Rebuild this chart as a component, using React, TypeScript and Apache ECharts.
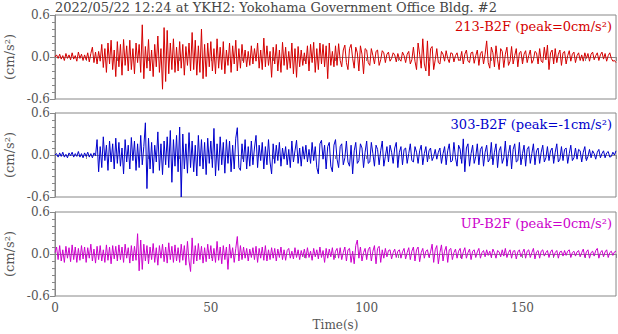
import React, { useEffect, useRef } from "react";
import * as echarts from "echarts";

const TITLE = "2022/05/22 12:24 at YKH2: Yokohama Government Office Bldg. #2";
const CHANNELS = ["213-B2F (peak=0cm/s²)", "303-B2F (peak=-1cm/s²)", "UP-B2F (peak=0cm/s²)"];
const COLORS = ["#d40000", "#0000cc", "#cc00cc"];
const X_TICK_LABELS = [0, 50, 100, 150];
const Y_TICK_LABELS = [-0.6, 0.0, 0.6];
const DT = 0.5; // seconds between samples

// 213-B2F, one row per 10 s (0.5 s steps)
const red: number[] = [
  0.00, 0.03, -0.02, 0.04, -0.03, 0.02, -0.05, 0.05, -0.02, 0.03, -0.04, 0.06, -0.03, 0.02, -0.06, 0.07, -0.02, 0.04, -0.05, 0.03,
  -0.04, 0.06, -0.07, 0.05, 0.14, -0.08, 0.07, -0.10, 0.08, -0.06, 0.18, -0.15, 0.12, -0.22, 0.20, -0.10, 0.24, -0.18, 0.10, -0.28,
  0.22, -0.14, 0.18, -0.26, 0.25, -0.12, 0.16, -0.20, 0.24, -0.18, 0.12, -0.24, 0.20, -0.08, 0.18, -0.22, 0.46, -0.31, 0.15, -0.16,
  0.25, -0.20, 0.10, -0.28, 0.18, -0.14, 0.30, -0.22, 0.12, -0.46, 0.42, -0.35, 0.38, -0.24, 0.20, -0.18, 0.26, -0.22, 0.14, -0.20,
  0.22, -0.16, 0.18, -0.26, 0.15, -0.12, 0.20, -0.20, 0.35, -0.18, 0.24, -0.26, 0.16, -0.22, 0.40, -0.31, 0.18, -0.28, 0.20, -0.14,
  0.22, -0.20, 0.12, -0.24, 0.26, -0.16, 0.14, -0.18, 0.22, -0.24, 0.10, -0.12, 0.20, -0.22, 0.16, -0.10, 0.24, -0.20, 0.12, -0.16,
  0.18, -0.08, 0.10, -0.14, 0.08, -0.12, 0.16, -0.10, 0.12, -0.06, 0.20, -0.16, 0.10, -0.18, 0.27, -0.14, 0.16, -0.12, 0.08, -0.29,
  0.14, -0.10, 0.18, -0.20, 0.10, -0.22, 0.21, -0.12, 0.14, -0.18, 0.08, -0.16, 0.20, -0.24, 0.12, -0.29, 0.15, -0.14, 0.10, -0.12,
  0.06, -0.10, 0.16, -0.20, 0.18, -0.08, 0.21, -0.22, 0.12, -0.18, 0.20, -0.10, 0.18, -0.14, 0.16, -0.31, 0.20, -0.12, 0.08, -0.14,
  0.16, -0.12, 0.19, -0.05, -0.14, 0.10, 0.17, -0.08, -0.18, 0.12, 0.18, -0.02, -0.16, 0.14, 0.06, -0.20, 0.16, 0.04, -0.24, 0.12,
  0.10, -0.08, -0.12, 0.12, 0.02, -0.10, 0.08, 0.10, -0.12, -0.04, 0.09, 0.06, -0.08, 0.04, 0.07, -0.06, -0.02, 0.06, 0.03, -0.07,
  0.05, -0.03, -0.06, 0.07, 0.02, -0.08, 0.04, 0.08, -0.10, -0.04, 0.14, -0.06, -0.18, 0.20, 0.04, -0.16, 0.26, -0.10, -0.20, 0.23,
  -0.27, 0.12, 0.15, -0.18, -0.04, 0.12, -0.08, -0.10, 0.08, 0.04, -0.06, 0.09, -0.02, -0.08, 0.06, 0.05, -0.07, 0.02, 0.06, -0.05,
  -0.04, 0.08, -0.10, 0.04, 0.10, -0.06, -0.08, 0.06, 0.07, -0.09, 0.02, 0.10, -0.12, 0.05, 0.08, -0.10, 0.04, 0.23, -0.08, -0.16,
  0.14, 0.06, -0.14, 0.16, -0.04, -0.18, 0.12, 0.08, -0.15, 0.04, 0.14, -0.12, -0.06, 0.15, -0.10, 0.02, 0.12, -0.14, 0.06, 0.08,
  -0.10, 0.04, 0.09, -0.08, 0.02, 0.10, -0.09, -0.04, 0.08, 0.06, -0.10, 0.12, -0.06, -0.08, 0.14, -0.04, 0.17, -0.18, 0.06, 0.10,
  -0.10, 0.12, -0.08, 0.04, 0.10, -0.12, 0.06, 0.08, -0.10, 0.02, 0.09, -0.06, 0.04, 0.07, -0.08, 0.02, 0.06, -0.05, 0.03, -0.06,
  0.06, -0.02, 0.05, -0.06, 0.04, 0.07, -0.04, 0.02, 0.06, -0.05, 0.03, 0.07, -0.03, 0.05, -0.06, 0.02, 0.06, -0.02, -0.06, -0.05,
  -0.08,
];

// 303-B2F
const blue: number[] = [
  0.00, 0.02, -0.03, 0.03, -0.02, 0.04, -0.03, 0.01, -0.04, 0.03, -0.01, 0.04, -0.03, 0.02, -0.02, 0.05, -0.03, 0.02, -0.04, 0.03,
  -0.02, 0.04, -0.03, 0.02, -0.04, 0.03, -0.01, 0.22, -0.24, 0.12, -0.18, 0.26, -0.08, 0.14, -0.22, 0.20, -0.10, 0.16, -0.20, 0.24,
  -0.12, 0.18, -0.16, 0.10, -0.27, 0.22, -0.10, 0.14, -0.20, 0.25, -0.08, 0.20, -0.22, 0.16, -0.18, 0.28, -0.14, 0.12, 0.46, -0.48,
  0.24, -0.20, 0.18, -0.26, 0.14, -0.10, 0.33, -0.22, 0.16, -0.28, 0.20, -0.14, 0.26, -0.18, 0.35, -0.39, 0.22, -0.16, 0.28, -0.24,
  0.40, -0.60, 0.30, -0.20, 0.16, -0.26, 0.32, -0.18, 0.20, -0.24, 0.14, -0.30, 0.28, -0.16, 0.22, -0.20, 0.18, -0.28, 0.24, -0.12,
  0.20, -0.18, 0.38, -0.30, 0.16, -0.22, 0.26, -0.14, 0.18, -0.26, 0.22, -0.12, 0.20, -0.24, 0.14, -0.20, 0.24, 0.39, -0.18, -0.22,
  0.16, -0.10, 0.22, -0.20, 0.12, -0.16, 0.20, -0.14, 0.10, 0.28, -0.18, 0.14, -0.08, 0.18, -0.20, 0.12, -0.14, 0.22, -0.10, -0.27,
  0.16, -0.12, 0.14, -0.08, 0.18, -0.16, 0.10, -0.06, 0.12, -0.14, 0.08, -0.18, 0.20, -0.10, 0.06, 0.21, -0.12, 0.10, -0.16, 0.12,
  -0.06, 0.14, -0.10, 0.08, -0.12, 0.18, -0.08, 0.12, -0.18, -0.27, 0.16, 0.21, -0.06, 0.14, -0.20, 0.12, 0.18, -0.16, -0.24, 0.14,
  0.22, -0.06, -0.18, 0.12, 0.16, -0.14, -0.04, 0.20, -0.10, -0.16, 0.14, -0.27, 0.06, 0.18, -0.12, -0.08, 0.16, 0.10, -0.18, 0.04,
  0.20, -0.12, -0.10, 0.18, 0.02, -0.16, 0.14, 0.08, -0.14, 0.06, 0.20, -0.16, -0.02, 0.12, -0.10, 0.14, 0.04, -0.12, 0.10, 0.18,
  -0.18, 0.04, 0.12, -0.14, 0.08, 0.10, -0.12, 0.02, 0.16, -0.08, -0.10, 0.12, 0.04, -0.12, 0.06, 0.14, -0.14, 0.02, 0.12, -0.10,
  0.06, 0.10, -0.08, -0.02, 0.08, -0.06, 0.04, 0.10, -0.12, 0.02, 0.12, -0.14, 0.06, 0.16, -0.10, -0.08, 0.18, -0.04, -0.16, 0.14,
  0.08, -0.12, 0.23, -0.24, 0.10, 0.16, -0.16, 0.02, 0.14, -0.12, -0.02, 0.16, -0.14, 0.08, 0.12, -0.16, 0.04, 0.14, -0.10, -0.06,
  0.18, -0.14, 0.04, 0.16, -0.18, 0.06, 0.12, -0.12, -0.04, 0.20, -0.16, 0.02, 0.14, -0.20, 0.08, 0.16, -0.10, -0.08, 0.18, -0.14,
  0.02, 0.14, -0.16, 0.08, 0.12, -0.12, 0.02, 0.16, -0.14, 0.06, 0.10, -0.12, 0.04, 0.14, -0.10, -0.04, 0.12, -0.08, 0.06, 0.10,
  -0.12, 0.04, 0.16, -0.10, -0.06, 0.12, -0.08, 0.08, 0.10, -0.12, 0.02, 0.14, -0.08, -0.04, 0.10, -0.06, 0.08, 0.06, -0.10, 0.04,
  0.12, -0.08, -0.02, 0.08, -0.04, 0.06, 0.02, -0.06, 0.04, 0.08, -0.04, 0.02, 0.06, -0.04, 0.03, 0.05, -0.03, -0.02, 0.04, 0.00,
  0.06,
];

// UP-B2F
const magenta: number[] = [
  0.02, 0.10, -0.08, 0.12, -0.10, 0.06, -0.12, 0.11, -0.06, 0.09, -0.11, 0.13, -0.08, 0.10, -0.12, 0.08, -0.09, 0.12, -0.07, 0.10,
  -0.12, 0.09, -0.06, 0.14, -0.10, 0.07, -0.13, 0.11, -0.08, 0.12, -0.10, 0.06, -0.12, 0.13, -0.09, 0.10, -0.14, 0.12, -0.07, 0.11,
  -0.10, 0.13, -0.08, 0.10, -0.12, 0.14, -0.06, 0.09, -0.13, 0.12, -0.10, 0.11, -0.09, 0.29, -0.24, 0.20, -0.22, 0.14, -0.10, 0.12,
  -0.14, 0.10, -0.08, 0.15, -0.12, 0.09, -0.16, 0.12, -0.06, 0.14, -0.11, 0.10, -0.13, 0.16, -0.08, 0.11, -0.12, 0.13, -0.10, 0.09,
  -0.12, 0.14, -0.09, 0.12, -0.16, 0.18, -0.10, -0.25, 0.23, -0.14, 0.12, -0.10, 0.15, -0.08, 0.11, -0.13, 0.09, -0.11, 0.14, -0.07,
  0.12, -0.10, 0.08, -0.12, 0.18, -0.09, 0.10, -0.14, 0.12, -0.08, 0.10, -0.22, 0.14, -0.06, 0.09, -0.12, 0.08, 0.25, -0.10, 0.12,
  -0.08, 0.10, -0.06, 0.08, -0.10, 0.07, -0.05, 0.09, -0.08, 0.11, -0.12, 0.08, -0.06, 0.10, -0.09, 0.12, -0.10, 0.06, -0.08, 0.09,
  -0.06, 0.08, -0.10, 0.07, -0.05, 0.10, -0.08, 0.06, -0.09, 0.05, 0.08, -0.06, 0.04, -0.07, 0.09, -0.05, 0.06, -0.08, 0.05, -0.04,
  0.07, -0.06, 0.09, -0.05, 0.04, -0.09, 0.08, -0.04, 0.06, -0.07, 0.10, -0.05, 0.05, -0.12, 0.08, -0.06, 0.07, -0.04, 0.09, -0.08,
  0.04, 0.08, -0.06, 0.09, -0.08, 0.02, 0.10, -0.10, 0.06, 0.08, -0.12, 0.04, -0.14, 0.12, 0.20, -0.06, 0.10, -0.10, 0.02, 0.08,
  -0.08, 0.06, 0.10, -0.10, 0.04, 0.12, -0.14, 0.08, 0.11, -0.12, 0.06, -0.06, 0.08, -0.04, 0.05, 0.06, -0.07, 0.02, 0.07, -0.05,
  0.04, 0.06, -0.06, 0.03, 0.08, -0.07, 0.02, 0.09, -0.08, 0.04, 0.10, -0.10, 0.06, 0.10, -0.11, 0.02, 0.08, -0.06, 0.04, 0.06,
  -0.05, 0.03, 0.14, -0.12, 0.06, 0.12, -0.14, 0.02, 0.13, -0.10, 0.04, 0.11, -0.12, 0.06, 0.08, -0.08, 0.02, 0.07, -0.06, 0.04,
  0.08, -0.07, 0.03, 0.09, -0.06, 0.02, 0.07, -0.08, 0.04, 0.06, -0.05, 0.03, 0.08, -0.06, 0.02, 0.05, -0.04, 0.06, -0.02, 0.04,
  -0.05, 0.07, 0.02, -0.06, 0.05, 0.03, -0.04, 0.06, -0.03, 0.08, -0.05, 0.02, 0.06, -0.06, 0.04, 0.05, -0.07, 0.03, 0.06, -0.04,
  0.02, 0.07, -0.06, 0.04, 0.06, -0.05, 0.02, 0.08, -0.07, 0.03, 0.05, -0.06, 0.04, 0.06, -0.03, 0.02, 0.05, -0.05, 0.03, 0.06,
  -0.04, 0.02, 0.05, -0.06, 0.03, 0.04, -0.03, 0.05, -0.02, 0.04, 0.06, -0.05, 0.02, 0.04, -0.03, 0.03, 0.05, -0.04, 0.02, 0.07,
  -0.05, 0.03, 0.06, -0.06, 0.02, 0.04, -0.03, 0.05, 0.08, -0.06, 0.02, 0.05, -0.04, 0.03, 0.06, -0.05, 0.02, 0.04, -0.02, 0.03,
  0.04,
];

const TRACES = [red, blue, magenta];

const FONT = "'DejaVu Serif', 'Liberation Serif', serif";
const GRID_TOPS = [15, 113, 212];
const GRID_H = 84;
const GRID_LEFT = 55;
const GRID_W = 561;

export default function App() {
  const ref = useRef<HTMLDivElement>(null);

  useEffect(() => {
    if (!ref.current) return;
    const chart = echarts.init(ref.current, null, { renderer: "svg" });

    const grids = GRID_TOPS.map((top) => ({
      left: GRID_LEFT,
      top,
      width: GRID_W,
      height: GRID_H,
      show: true,
      borderColor: "#888",
      borderWidth: 1,
      backgroundColor: "transparent",
      containLabel: false,
      outerBoundsMode: "none",
    }));

    const xAxes = GRID_TOPS.map((_, i) => ({
      type: "value",
      gridIndex: i,
      min: 0,
      max: 180,
      interval: 10,
      axisLine: { show: true, lineStyle: { color: "#888", width: 1 } },
      axisTick: { show: true, length: 4, lineStyle: { color: "#888" } },
      splitLine: { show: false },
      axisLabel: {
        show: i === 2,
        margin: 6,
        color: "#555",
        fontFamily: FONT,
        fontSize: 12,
        formatter: (v: number) => (X_TICK_LABELS.includes(v) ? String(v) : ""),
      },
      name: i === 2 ? "Time(s)" : "",
      nameLocation: "middle",
      nameGap: 23,
      nameTextStyle: { color: "#555", fontFamily: FONT, fontSize: 12 },
    }));

    const yAxes = GRID_TOPS.map((_, i) => ({
      type: "value",
      gridIndex: i,
      min: Y_TICK_LABELS[0],
      max: Y_TICK_LABELS[Y_TICK_LABELS.length - 1],
      interval: 0.6,
      axisLine: { show: true, lineStyle: { color: "#888", width: 1 } },
      axisTick: { show: true, length: 5, lineStyle: { color: "#888" } },
      minorTick: { show: true, splitNumber: 6, length: 3, lineStyle: { color: "#888" } },
      splitLine: { show: false },
      minorSplitLine: { show: false },
      axisLabel: {
        margin: 5,
        color: "#555",
        fontFamily: FONT,
        fontSize: 12,
        formatter: (v: number) => v.toFixed(1),
      },
      name: "(cm/s²)",
      nameLocation: "middle",
      nameRotate: 90,
      nameGap: 36,
      nameTextStyle: { color: "#555", fontFamily: FONT, fontSize: 13 },
    }));

    const series = TRACES.map((arr, i) => ({
      type: "line",
      xAxisIndex: i,
      yAxisIndex: i,
      showSymbol: false,
      symbol: "none",
      data: arr.map((v, k) => [k * DT, v]),
      lineStyle: { color: COLORS[i], width: 1 },
      itemStyle: { color: COLORS[i] },
      clip: true,
    }));

    const graphic: any[] = [
      {
        type: "text",
        x: 55,
        y: 7,
        style: {
          text: TITLE,
          fill: "#444",
          fontFamily: FONT,
          fontSize: 13,
          align: "left",
          verticalAlign: "middle",
        },
      },
      ...CHANNELS.map((label, i) => ({
        type: "text",
        x: 612,
        y: GRID_TOPS[i] + 11,
        style: {
          text: label,
          fill: COLORS[i],
          fontFamily: FONT,
          fontSize: 13,
          align: "right",
          verticalAlign: "middle",
        },
        z: 10,
      })),
    ];

    chart.setOption({
      animation: false,
      backgroundColor: "#fff",
      grid: grids,
      xAxis: xAxes,
      yAxis: yAxes,
      series,
      graphic,
    } as any);

    return () => chart.dispose();
  }, []);

  return (
    <div
      ref={ref}
      style={{ position: "fixed", left: 0, top: 0, width: 618, height: 334 }}
    />
  );
}
